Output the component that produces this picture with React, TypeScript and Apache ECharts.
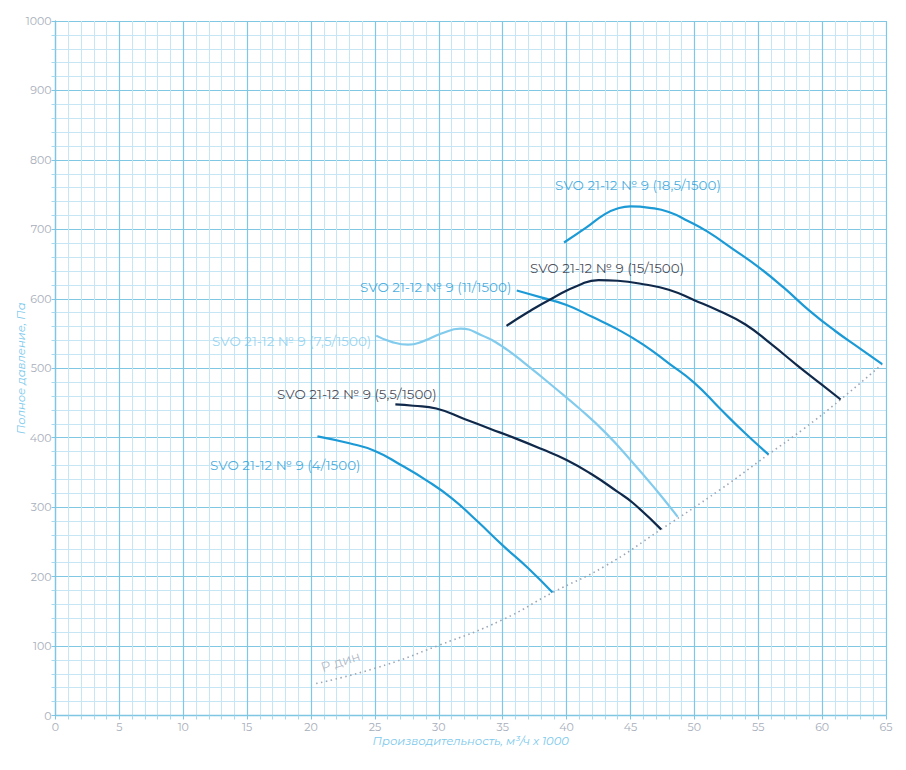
import React, { useEffect, useRef } from "react";
import * as echarts from "echarts";

// flow, m³/h x 1000 and full pressure, Pa
const flow4 = [20.5, 23, 25, 27, 29, 31, 33, 35, 37, 38.9];
const pres4 = [402, 392, 381, 361, 339, 313, 280, 245, 212, 177];

const flow55 = [26.6, 28, 29.8, 32, 34, 36, 38, 40, 42, 44, 45.2, 47.4];
const pres55 = [448, 446, 442, 427, 413, 399, 384, 368, 347, 322, 306, 268];

const flow75 = [25.1, 26.3, 27.6, 28.8, 30.2, 31.7, 33.3, 35, 37, 39, 41, 43, 45, 47, 48.7];
const pres75 = [547, 538, 534, 539, 550, 557, 548, 531, 503, 473, 442, 408, 368, 325, 286];

const flow11 = [36.1, 38, 40, 42, 44, 46, 48, 50, 52, 54, 55.8];
const pres11 = [612, 602, 591, 574, 556, 534, 507, 479, 442, 406, 376];

const flow15 = [35.3, 37, 39, 41, 42.5, 44, 46, 48, 50, 52, 54, 56, 58, 60, 61.45];
const pres15 = [561, 581, 602, 620, 627, 626, 621, 613, 598, 582, 563, 535, 505, 476, 455];

const flow185 = [39.8, 41.5, 43, 44, 45, 46.5, 48, 49.5, 51, 53, 55, 57, 59, 61, 63, 64.7];
const pres185 = [681, 702, 722, 730, 733, 731, 725, 712, 697, 672, 646, 616, 583, 554, 528, 506];

const flowDyn = [20.4, 25, 30, 35, 38.9, 43, 47.4, 52, 55.8, 58.5, 61.45, 64.7];
const presDyn = [46, 68, 101, 138, 177, 215, 268, 325, 376, 412, 455, 506];

const seriesNames = [
  "SVO 21-12 № 9 (4/1500)",
  "SVO 21-12 № 9 (5,5/1500)",
  "SVO 21-12 № 9 (7,5/1500)",
  "SVO 21-12 № 9 (11/1500)",
  "SVO 21-12 № 9 (15/1500)",
  "SVO 21-12 № 9 (18,5/1500)",
];
// label anchor (left edge, middle) in data coordinates
const labelFlow = [12.09, 17.34, 12.25, 23.83, 37.13, 39.1];
const labelPres = [361, 463, 539, 617, 644, 764];

const dynLabel = "Р дин";
const dynLabelFlow = [22.3];
const dynLabelPres = [78];

const xTicks = { min: 0, max: 65, interval: 5 };
const yTicks = { min: 0, max: 1000, interval: 100 };

const BLUE = "#1c9ad6";
const LIGHT = "#82cbec";
const NAVY = "#10294a";
const lineColors = [BLUE, NAVY, LIGHT, BLUE, NAVY, BLUE];
const labelColors = [BLUE, "#23232f", LIGHT, BLUE, "#23232f", BLUE];

const zip = (a: number[], b: number[]) => a.map((v, i) => [v, b[i]]);

export default function App() {
  const ref = useRef<HTMLDivElement>(null);
  useEffect(() => {
    if (!ref.current) return;
    const chart = echarts.init(ref.current, undefined, { renderer: "svg" });
    const font = "Montserrat, 'Noto Sans', sans-serif";
    const curves = [
      zip(flow4, pres4),
      zip(flow55, pres55),
      zip(flow75, pres75),
      zip(flow11, pres11),
      zip(flow15, pres15),
      zip(flow185, pres185),
    ];
    const axisCommon = {
      type: "value" as const,
      axisLine: { show: true, onZero: false, lineStyle: { color: "#7fc6e3", width: 1.3 } },
      axisTick: { show: true, length: 4, lineStyle: { color: "#7fc6e3" } },
      minorTick: { show: true, splitNumber: 5, length: 4, lineStyle: { color: "#a9d9ee" } },
      splitLine: { show: true, lineStyle: { color: "#80c7e4", width: 1.2 } },
      minorSplitLine: { show: true, lineStyle: { color: "#c6e6f5", width: 1 } },
      axisLabel: {
        color: "#a7aeba",
        fontSize: 11,
        fontFamily: font,
        formatter: (v: number) => String(v),
      },
      nameLocation: "middle" as const,
      nameMoveOverlap: false,
      nameTextStyle: { color: "#7cc9ec", fontStyle: "italic", fontSize: 11.5, fontFamily: font },
    };
    chart.setOption({
      animation: false,
      backgroundColor: "#ffffff",
      grid: {
        left: 55.5,
        right: 20,
        top: 21,
        bottom: 54.5,
        containLabel: false,
        outerBoundsMode: "none",
      },
      xAxis: {
        ...axisCommon,
        ...xTicks,
        name: "Производительность, м³/ч х 1000",
        nameGap: 19,
        axisLabel: { ...axisCommon.axisLabel, margin: 6 },
      },
      yAxis: {
        ...axisCommon,
        ...yTicks,
        name: "Полное давление, Па",
        nameGap: 29,
        axisLabel: { ...axisCommon.axisLabel, margin: 4 },
      },
      series: [
        {
          type: "line",
          data: zip(flowDyn, presDyn),
          smooth: 0.5,
          symbol: "none",
          lineStyle: { color: "#9aa6b4", width: 1.6, type: [1.5, 3.5] },
          z: 3,
        },
        ...curves.map((d, i) => ({
          type: "line",
          name: seriesNames[i],
          data: d,
          smooth: 0.5,
          symbol: "none",
          lineStyle: { color: lineColors[i], width: 2.2 },
          z: 4,
        })),
        {
          type: "scatter",
          symbolSize: 0,
          data: labelFlow.map((v, i) => ({
            value: [v, labelPres[i]],
            label: { color: labelColors[i], formatter: seriesNames[i] },
          })),
          label: {
            show: true,
            position: "right",
            distance: 0,
            fontSize: 13.5,
            fontFamily: font,
          },
          z: 6,
        },
        {
          type: "scatter",
          symbolSize: 0,
          data: dynLabelFlow.map((v, i) => [v, dynLabelPres[i]]),
          label: {
            show: true,
            position: "inside",
            formatter: dynLabel,
            rotate: 18,
            color: "#a3acb8",
            fontSize: 13.5,
            fontFamily: font,
          },
          z: 6,
        },
      ],
    });
    return () => chart.dispose();
  }, []);
  return (
    <div
      ref={ref}
      style={{ position: "absolute", left: 0, top: 0, width: 906, height: 770 }}
    />
  );
}
